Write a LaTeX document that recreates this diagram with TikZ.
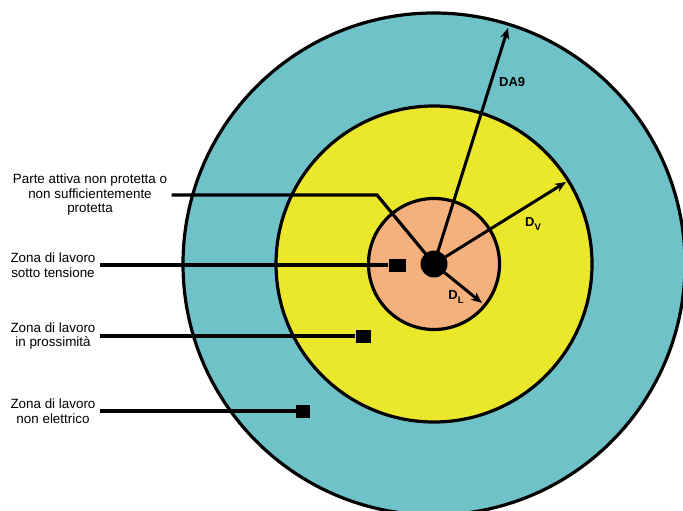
\documentclass[tikz,border=0pt]{standalone}
\usepackage{fontspec}
\setmainfont{Liberation Sans}
\usetikzlibrary{arrows.meta}
\definecolor{zonaext}{RGB}{111,194,199}
\definecolor{zonaprox}{RGB}{235,231,42}
\definecolor{zonatens}{RGB}{244,177,126}
\begin{document}
\begin{tikzpicture}[x=1pt,y=-1pt,
  ring/.style={draw=black,line width=3.2pt},
  leader/.style={line width=3.2pt},
  raggio/.style={line width=3pt,-{Stealth[length=11pt,width=9pt]}},
  marker/.style={fill=black,inner sep=0pt,minimum height=13pt},
  zona/.style={align=center,font=\fontsize{13.4}{14.5}\selectfont},
  dist/.style={font=\fontsize{13}{13}\selectfont\bfseries,inner sep=0pt}]
  \path[fill=white,use as bounding box] (0,0) rectangle (683,511);
  \coordinate (c) at (434,264);
  % zone
  \draw[ring,fill=zonaext] (c) circle (251pt);
  \draw[ring,fill=zonaprox] (c) circle (158pt);
  \draw[ring,fill=zonatens] (c) circle (65.5pt);
  \node[circle,fill=black,minimum size=27pt,inner sep=0pt] (dot) at (c) {};
  % distanze
  \coordinate (a9) at (508,28);
  \coordinate (av) at (566,182);
  \coordinate (al) at (482,303);
  \draw[raggio] (dot.center) -- (a9);
  \draw[raggio] (dot.center) -- (av);
  \draw[raggio] (dot.center) -- (al);
  \node[dist,anchor=west] (lda9) at (499,82) {DA9};
  \node[dist] (ldv) at (533,224) {D\raisebox{-3.5pt}{\fontsize{9.5}{9.5}\selectfont V}};
  \node[dist] (ldl) at (456,297) {D\raisebox{-3.5pt}{\fontsize{9.5}{9.5}\selectfont L}};
  % legenda
  \node[zona] (t1) at (90,195) {Parte attiva non protetta o\\non sufficientemente\\protetta};
  \node[zona] (t2) at (53,265) {Zona di lavoro\\sotto tensione};
  \node[zona] (t3) at (53,336) {Zona di lavoro\\in prossimità};
  \node[zona] (t4) at (53,411) {Zona di lavoro\\non elettrico};
  \node[marker,minimum width=17pt] (b2) at (397,265) {};
  \node[marker,minimum width=15pt] (b3) at (363,336) {};
  \node[marker,minimum width=14pt] (b4) at (303,411) {};
  \coordinate (k) at (377,195);
  \draw[leader] ([xshift=1pt]t1.east) -- (k) -- (dot.center);
  \draw[leader] ([xshift=1pt]t2.east) -- (b2);
  \draw[leader] ([xshift=1pt]t3.east) -- (b3);
  \draw[leader] ([xshift=1pt]t4.east) -- (b4);
\end{tikzpicture}
\end{document}
